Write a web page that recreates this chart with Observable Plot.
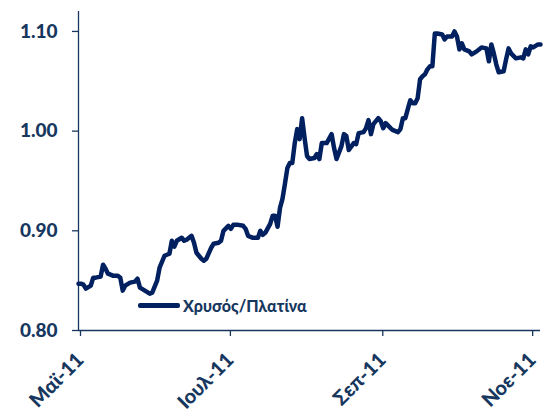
<!DOCTYPE html>
<html><head><meta charset="utf-8">
<script src="https://cdn.jsdelivr.net/npm/d3@7"></script>
<script src="https://cdn.jsdelivr.net/npm/@observablehq/plot@0.6"></script>
<style>
body{margin:0;background:#fff;}
#wrap{position:relative;width:549px;height:412px;overflow:hidden;}
#legend{position:absolute;left:138px;top:296px;display:flex;align-items:center;font:900 16px Lato,sans-serif;color:#17375E;white-space:nowrap;}
#legend .sw{display:inline-block;width:42px;height:4.5px;background:#002060;border-radius:2px;margin-right:3px;}
</style></head><body>
<div id="wrap"><div id="legend"><span class="sw"></span><span id="legtext"></span></div></div>
<script>
const seriesName = "Χρυσός/Πλατίνα";
const dates = [
"2011-05-01","2011-05-02","2011-05-03","2011-05-04","2011-05-06","2011-05-07","2011-05-08","2011-05-10","2011-05-11","2011-05-12",
"2011-05-13","2011-05-15","2011-05-17","2011-05-18","2011-05-19","2011-05-20","2011-05-22","2011-05-24","2011-05-25","2011-05-26",
"2011-05-28","2011-05-30","2011-05-31","2011-06-02","2011-06-03","2011-06-05","2011-06-07","2011-06-08","2011-06-09","2011-06-10",
"2011-06-12","2011-06-13","2011-06-14","2011-06-16","2011-06-17","2011-06-18","2011-06-20","2011-06-21","2011-06-22","2011-06-24",
"2011-06-25","2011-06-27","2011-06-28","2011-06-29","2011-07-01","2011-07-02","2011-07-03","2011-07-05","2011-07-07","2011-07-08",
"2011-07-09","2011-07-11","2011-07-13","2011-07-14","2011-07-15","2011-07-16","2011-07-18","2011-07-19","2011-07-20","2011-07-21",
"2011-07-22","2011-07-23","2011-07-24","2011-07-25","2011-07-26","2011-07-27","2011-07-28","2011-07-29","2011-07-30","2011-07-31",
"2011-08-01","2011-08-02","2011-08-03","2011-08-05","2011-08-06","2011-08-07","2011-08-08","2011-08-09","2011-08-10","2011-08-12",
"2011-08-13","2011-08-14","2011-08-16","2011-08-17","2011-08-18","2011-08-19","2011-08-21","2011-08-22","2011-08-23","2011-08-25",
"2011-08-26","2011-08-27","2011-08-28","2011-08-29","2011-08-31","2011-09-01","2011-09-02","2011-09-03","2011-09-05","2011-09-06",
"2011-09-08","2011-09-09","2011-09-10","2011-09-11","2011-09-12","2011-09-13","2011-09-14","2011-09-15","2011-09-16","2011-09-17",
"2011-09-18","2011-09-19","2011-09-20","2011-09-21","2011-09-22","2011-09-23","2011-09-24","2011-09-26","2011-09-27","2011-09-28",
"2011-09-30","2011-10-01","2011-10-02","2011-10-03","2011-10-04","2011-10-05","2011-10-07","2011-10-08","2011-10-10","2011-10-12",
"2011-10-14","2011-10-15","2011-10-16","2011-10-17","2011-10-18","2011-10-19","2011-10-21","2011-10-22","2011-10-23","2011-10-24",
"2011-10-26","2011-10-28","2011-10-29","2011-10-30","2011-10-31","2011-11-01","2011-11-02","2011-11-04","2011-11-05"];
const values = [
0.847,0.847,0.846,0.842,0.845,0.853,0.853,0.854,0.866,0.862,
0.857,0.855,0.855,0.853,0.840,0.845,0.848,0.849,0.852,0.843,
0.840,0.837,0.838,0.850,0.863,0.875,0.877,0.890,0.884,0.890,
0.893,0.890,0.891,0.895,0.888,0.878,0.872,0.870,0.872,0.883,
0.887,0.888,0.890,0.900,0.905,0.902,0.906,0.906,0.905,0.902,
0.895,0.893,0.893,0.900,0.896,0.898,0.907,0.915,0.915,0.904,
0.923,0.932,0.947,0.963,0.968,0.968,0.988,1.002,0.992,1.013,
0.993,0.975,0.972,0.973,0.977,0.972,0.988,0.988,0.988,0.997,
0.983,0.972,0.985,0.997,0.995,0.981,0.988,0.987,0.998,0.999,
1.003,1.011,0.997,1.007,1.013,1.010,1.003,1.008,1.003,1.001,
0.999,1.002,1.013,1.013,1.022,1.031,1.028,1.028,1.033,1.052,
1.055,1.057,1.062,1.065,1.065,1.098,1.098,1.097,1.092,1.095,
1.095,1.100,1.095,1.082,1.088,1.082,1.080,1.077,1.080,1.084,
1.083,1.070,1.087,1.078,1.067,1.059,1.060,1.072,1.083,1.078,
1.073,1.074,1.073,1.082,1.077,1.085,1.084,1.087,1.087];
const tickDates = ["2011-05-01","2011-07-01","2011-09-01","2011-11-01"];
const tickLabels = ["Μαϊ-11","Ιουλ-11","Σεπ-11","Νοε-11"];
const yTicks = [0.80, 0.90, 1.00, 1.10];
const xDomain = ["2011-05-01","2011-11-05"];
const yDomain = [0.80, 1.12];

const parse = d3.utcParse("%Y-%m-%d");
const data = dates.map((d, i) => ({date: parse(d), value: values[i]}));
const tDates = tickDates.map(parse);
const axisColor = "#17375E";

const chart = Plot.plot({
  width: 549,
  height: 412,
  marginLeft: 78,
  marginRight: 9,
  marginTop: 11,
  marginBottom: 82,
  style: {fontFamily: "Lato, sans-serif", fontWeight: "900", color: axisColor, background: "#fff", overflow: "visible"},
  x: {type: "utc", domain: xDomain.map(parse)},
  y: {domain: yDomain},
  marks: [
    Plot.ruleX([parse(xDomain[0])], {stroke: axisColor, strokeWidth: 1.3}),
    Plot.ruleY([yDomain[0]], {stroke: axisColor, strokeWidth: 1.3}),
    Plot.axisY({ticks: yTicks, tickFormat: d3.format(".2f"), tickSize: 6, tickPadding: 15, fontSize: 19, label: null, strokeWidth: 1.3}),
    Plot.axisX({ticks: tDates, tickFormat: (d) => tickLabels[tDates.findIndex(t => +t === +d)], tickRotate: -45, tickSize: 6, tickPadding: 20, dx: 2, fontSize: 20, label: null, strokeWidth: 1.3}),
    Plot.lineY(data, {x: "date", y: "value", stroke: "#002060", strokeWidth: 4.5, strokeLinejoin: "round", strokeLinecap: "round"})
  ]
});
document.getElementById("legtext").textContent = seriesName;
document.getElementById("wrap").prepend(chart);
</script>
</body></html>
